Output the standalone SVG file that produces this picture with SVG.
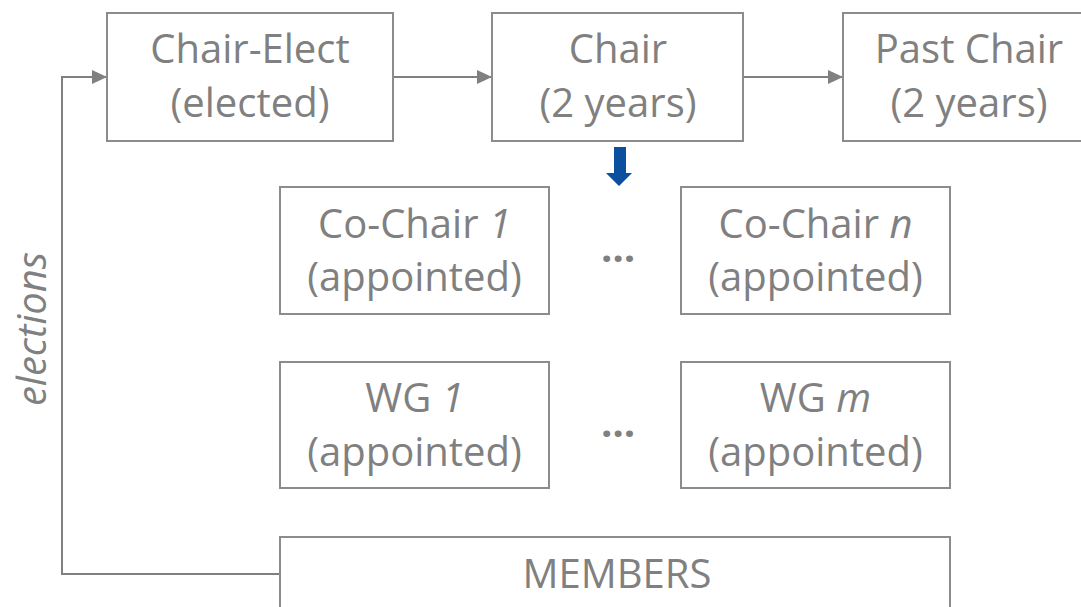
<svg xmlns="http://www.w3.org/2000/svg" width="1081" height="607" viewBox="0 0 1081 607">
<style>
.box{fill:#ffffff;stroke:#8c8c8c;stroke-width:2}
.t{font-family:"Open Sans","Liberation Sans",sans-serif;font-size:40px;fill:#808080;text-anchor:middle}
.i{font-style:italic}
.conn{fill:none;stroke:#808080;stroke-width:2}
</style>
<defs>
<marker id="ah" markerWidth="15" markerHeight="14" refX="15" refY="7" orient="auto" markerUnits="userSpaceOnUse">
<path d="M0,0 L15,7 L0,14 Z" fill="#808080"/>
</marker>
</defs>
<rect width="1081" height="607" fill="#ffffff"/>
<g id="connectors">
<path class="conn" d="M280,574 H62 V77 H107" marker-end="url(#ah)"/>
<path class="conn" d="M393,77 H492" marker-end="url(#ah)"/>
<path class="conn" d="M743,77 H843" marker-end="url(#ah)"/>
<path d="M614,147 H626 V173 H632 L619,186 L606,173 H614 Z" fill="#0b4f9e"/>
</g>
<g id="chair-elect">
<rect class="box" x="107" y="13" width="286" height="128"/>
<text class="t" x="250" y="63">Chair-Elect</text>
<text class="t" x="250" y="117">(elected)</text>
</g>
<g id="chair">
<rect class="box" x="492" y="13" width="251" height="128"/>
<text class="t" x="618" y="63">Chair</text>
<text class="t" x="618" y="117">(2 years)</text>
</g>
<g id="past-chair">
<rect class="box" x="843" y="13" width="250" height="128"/>
<text class="t" x="969" y="63">Past Chair</text>
<text class="t" x="969" y="117">(2 years)</text>
</g>
<g id="co-chair-1">
<rect class="box" x="280" y="187" width="269" height="127"/>
<text class="t" x="414.5" y="238">Co-Chair <tspan class="i">1</tspan></text>
<text class="t" x="414.5" y="291">(appointed)</text>
</g>
<g id="co-chair-n">
<rect class="box" x="681" y="187" width="269" height="127"/>
<text class="t" x="815.5" y="238">Co-Chair <tspan class="i">n</tspan></text>
<text class="t" x="815.5" y="291">(appointed)</text>
</g>
<g id="dots-1">
<text class="t" x="618" y="262" font-weight="bold">…</text>
</g>
<g id="wg-1">
<rect class="box" x="280" y="362" width="269" height="126"/>
<text class="t" x="414.5" y="412">WG <tspan class="i">1</tspan></text>
<text class="t" x="414.5" y="466">(appointed)</text>
</g>
<g id="wg-m">
<rect class="box" x="681" y="362" width="269" height="126"/>
<text class="t" x="815.5" y="412">WG <tspan class="i">m</tspan></text>
<text class="t" x="815.5" y="466">(appointed)</text>
</g>
<g id="dots-2">
<text class="t" x="618" y="437" font-weight="bold">…</text>
</g>
<g id="members">
<rect class="box" x="280" y="537" width="670" height="80"/>
<text class="t" x="617" y="588">MEMBERS</text>
</g>
<g id="elections-label">
<text class="t i" transform="translate(46,329) rotate(-90)">elections</text>
</g>
</svg>
